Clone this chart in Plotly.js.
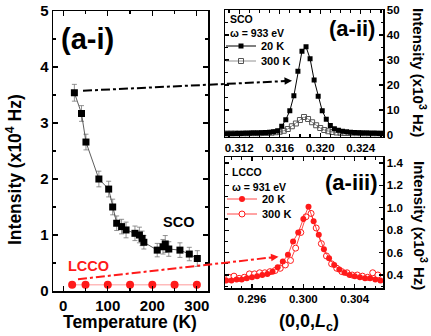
<!DOCTYPE html>
<html><head><meta charset="utf-8">
<script src="https://cdn.plot.ly/plotly-3.0.1.min.js"></script>
<style>html,body{margin:0;padding:0;background:#fff}#plot{width:431px;height:336px}</style>
</head><body><div id="plot"></div>
<script>
// ---- Panel (a-i): temperature dependence ----
const T_sco = [25, 41, 51, 80, 102, 111, 120, 131, 141, 161, 171, 177, 181, 211, 224, 229, 237, 262, 283, 301];
const I_sco = [3.54, 3.17, 2.66, 2.00, 1.82, 1.50, 1.21, 1.15, 1.09, 1.03, 1.00, 0.94, 0.87, 0.73, 0.79, 0.84, 0.75, 0.73, 0.66, 0.58];
const E_sco = [0.15, 0.14, 0.14, 0.14, 0.14, 0.14, 0.13, 0.13, 0.14, 0.13, 0.14, 0.13, 0.12, 0.12, 0.13, 0.15, 0.13, 0.13, 0.12, 0.14];
const T_lcco = [20, 50, 100, 150, 200, 250, 300];
const I_lcco = [0.11, 0.11, 0.11, 0.11, 0.11, 0.11, 0.11];
const T_ticks = [0, 100, 200, 300];
const I_ticks = [0, 1, 2, 3, 4, 5];

// ---- Panel (a-ii): SCO scans (x10^3 Hz) ----
const L_sco20 = [0.3106,0.3110,0.3114,0.3118,0.3122,0.3126,0.3130,0.3134,0.3138,0.3142,0.3146,0.3150,0.3154,0.3158,0.3162,0.3166,0.3170,0.3174,0.3178,0.3182,0.3186,0.3190,0.3194,0.3198,0.3202,0.3206,0.3210,0.3214,0.3218,0.3222,0.3226,0.3230,0.3234,0.3238,0.3242,0.3246,0.3250,0.3254,0.3258,0.3262];
const I_sco20 = [0.5,0.5,0.5,0.6,0.6,0.7,0.7,0.8,0.8,0.9,1.0,1.1,1.3,1.7,3.5,6.1,9.7,15.7,25.5,33.5,35.3,30.5,22.0,15.5,9.7,6.3,3.8,2.5,1.9,1.5,1.3,1.1,1.0,0.9,0.8,0.8,0.7,0.7,0.6,0.6];
const L_sco300 = [0.3108,0.3112,0.3116,0.3120,0.3124,0.3128,0.3132,0.3136,0.3140,0.3144,0.3148,0.3152,0.3156,0.3160,0.3164,0.3168,0.3172,0.3176,0.3180,0.3184,0.3188,0.3192,0.3196,0.3200,0.3204,0.3208,0.3212,0.3216,0.3220,0.3224,0.3228,0.3232,0.3236,0.3240,0.3244,0.3248,0.3252,0.3256,0.3260];
const I_sco300 = [0.6,0.6,0.6,0.6,0.6,0.6,0.7,0.7,0.7,0.8,0.8,0.9,1.1,1.3,1.7,2.4,3.5,4.6,6.0,7.2,6.4,5.1,3.9,2.8,2.0,1.5,1.2,1.0,0.9,0.8,0.8,0.7,0.7,0.7,0.6,0.6,0.6,0.6,0.6];
const L2_ticks = [0.312, 0.316, 0.320, 0.324];
const L2_text = ["0.312", "0.316", "0.320", "0.324"];
const I2_ticks = [0, 10, 20, 30, 40, 50];

// ---- Panel (a-iii): LCCO scans (x10^3 Hz) ----
const L_lcco20 = [0.2940,0.2944,0.2948,0.2952,0.2956,0.2960,0.2964,0.2968,0.2972,0.2976,0.2980,0.2984,0.2988,0.2992,0.2996,0.3000,0.3004,0.3008,0.3012,0.3016,0.3020,0.3024,0.3028,0.3032,0.3036,0.3040,0.3044,0.3048,0.3052,0.3056,0.3060];
const I_lcco20 = [0.35,0.35,0.36,0.36,0.37,0.38,0.39,0.40,0.41,0.43,0.47,0.52,0.58,0.70,0.78,0.90,1.01,0.88,0.76,0.63,0.55,0.49,0.45,0.42,0.40,0.39,0.38,0.37,0.37,0.36,0.35];
const L_lcco300 = [0.2942,0.2946,0.2950,0.2954,0.2958,0.2962,0.2966,0.2970,0.2974,0.2978,0.2982,0.2986,0.2990,0.2994,0.2998,0.3002,0.3006,0.3010,0.3014,0.3018,0.3022,0.3026,0.3030,0.3034,0.3038,0.3042,0.3046,0.3050,0.3054,0.3058];
const I_lcco300 = [0.38,0.39,0.37,0.38,0.41,0.41,0.42,0.42,0.43,0.44,0.46,0.49,0.53,0.64,0.78,0.92,0.95,0.82,0.68,0.57,0.50,0.46,0.43,0.42,0.40,0.40,0.39,0.38,0.42,0.40];
const L3_ticks = [0.296, 0.300, 0.304];
const L3_text = ["0.296", "0.300", "0.304"];
const I3_ticks = [0.4, 0.6, 0.8, 1.0, 1.2, 1.4];
const I3_text = ["0.4", "0.6", "0.8", "1.0", "1.2", "1.4"];

const W = 431, H = 336;
const px = x => x / W, py = y => 1 - y / H;
const FAM = 'Liberation Sans, Arial, Helvetica, sans-serif';
const RED = '#ff1a1a';
const B = s => '<b>' + s + '</b>';
const fnt = (s, c) => ({family: FAM, size: s, color: c || '#000', weight: 'bold'});

const traces = [
  {x: T_sco, y: I_sco, xaxis: 'x', yaxis: 'y', type: 'scatter', mode: 'lines+markers', showlegend: false,
   line: {color: '#333', width: 0.8}, marker: {symbol: 'square', size: 7, color: '#000'},
   error_y: {type: 'data', array: E_sco, visible: true, color: '#777', thickness: 0.8, width: 2.5}},
  {x: T_lcco, y: I_lcco, xaxis: 'x', yaxis: 'y', type: 'scatter', mode: 'lines+markers', showlegend: false,
   line: {color: '#ff8080', width: 0.8}, marker: {symbol: 'circle', size: 8, color: RED}},
  {x: L_sco300, y: I_sco300, xaxis: 'x2', yaxis: 'y2', type: 'scatter', mode: 'lines+markers', name: B('300 K'), legend: 'legend2',
   line: {color: '#777', width: 0.8}, marker: {symbol: 'square-open', size: 5, color: '#555', line: {width: 1}}},
  {x: L_sco20, y: I_sco20, xaxis: 'x2', yaxis: 'y2', type: 'scatter', mode: 'lines+markers', name: B('20 K'), legend: 'legend',
   line: {color: '#000', width: 1}, marker: {symbol: 'square', size: 5, color: '#000'}},
  {x: L_lcco300, y: I_lcco300, xaxis: 'x3', yaxis: 'y3', type: 'scatter', mode: 'lines+markers', name: B('300 K'), legend: 'legend4',
   line: {color: RED, width: 0.8}, marker: {symbol: 'circle', size: 6, color: '#fff', line: {color: RED, width: 1}}},
  {x: L_lcco20, y: I_lcco20, xaxis: 'x3', yaxis: 'y3', type: 'scatter', mode: 'lines+markers', name: B('20 K'), legend: 'legend3',
   line: {color: RED, width: 0.8}, marker: {symbol: 'circle', size: 6, color: RED}}
];

const axBase = {showline: true, linewidth: 1.5, linecolor: '#000', mirror: 'ticks', ticks: 'inside',
  tickcolor: '#000', tickwidth: 1.2, showgrid: false, zeroline: false, tickmode: 'array'};

const legBase = {xref: 'paper', yref: 'paper', xanchor: 'left', yanchor: 'middle', bgcolor: 'rgba(0,0,0,0)',
  borderwidth: 0, font: fnt(11), itemwidth: 30};

function ann(x, y, text, size, extra) {
  return Object.assign({xref: 'paper', yref: 'paper', x: px(x), y: py(y), text: B(text), showarrow: false,
    xanchor: 'center', yanchor: 'middle', font: fnt(size)}, extra || {});
}

const layout = {
  width: W, height: H, margin: {l: 0, r: 0, t: 0, b: 0},
  paper_bgcolor: '#fff', plot_bgcolor: '#fff', font: {family: FAM},
  xaxis: Object.assign({}, axBase, {domain: [px(53), px(208)], range: [-23, 325], anchor: 'y',
    tickvals: T_ticks, ticktext: T_ticks.map(v => B(v)), ticklen: 5, tickfont: fnt(15),
    minor: {dtick: 50, tick0: 0, ticklen: 3, ticks: 'inside', tickcolor: '#000'}}),
  yaxis: Object.assign({}, axBase, {domain: [py(291), py(11)], range: [0, 5], anchor: 'x',
    tickvals: I_ticks, ticktext: I_ticks.map(v => B(v)), ticklen: 5, tickfont: fnt(15),
    minor: {dtick: 0.5, tick0: 0, ticklen: 3, ticks: 'inside', tickcolor: '#000'}}),
  xaxis2: Object.assign({}, axBase, {domain: [px(225), px(383)], range: [0.3106, 0.3262], anchor: 'y2',
    tickvals: L2_ticks, ticktext: L2_text.map(B), ticklen: 4, tickfont: fnt(11.5),
    minor: {dtick: 0.001, tick0: 0.312, ticklen: 2.5, ticks: 'inside', tickcolor: '#000'}}),
  yaxis2: Object.assign({}, axBase, {domain: [py(136.5), py(10)], range: [-0.6, 50], anchor: 'x2', side: 'right',
    tickvals: I2_ticks, ticktext: I2_ticks.map(v => B(v)), ticklen: 4, tickfont: fnt(11.5),
    minor: {dtick: 5, tick0: 0, ticklen: 2.5, ticks: 'inside', tickcolor: '#000'}}),
  xaxis3: Object.assign({}, axBase, {domain: [px(225), px(383)], range: [0.2939, 0.3062], anchor: 'y3',
    tickvals: L3_ticks, ticktext: L3_text.map(B), ticklen: 4, tickfont: fnt(11.5),
    minor: {dtick: 0.0008, tick0: 0.296, ticklen: 2.5, ticks: 'inside', tickcolor: '#000'}}),
  yaxis3: Object.assign({}, axBase, {domain: [py(288), py(157)], range: [0.284, 1.454], anchor: 'x3', side: 'right',
    tickvals: I3_ticks, ticktext: I3_text.map(B), ticklen: 4, tickfont: fnt(11.5),
    minor: {dtick: 0.1, tick0: 0.4, ticklen: 2.5, ticks: 'inside', tickcolor: '#000'}}),
  legend: Object.assign({}, legBase, {x: px(221), y: py(46)}),
  legend2: Object.assign({}, legBase, {x: px(221), y: py(61)}),
  legend3: Object.assign({}, legBase, {x: px(222), y: py(199)}),
  legend4: Object.assign({}, legBase, {x: px(222), y: py(214)}),
  shapes: [
    {type: 'line', xref: 'paper', yref: 'paper', x0: px(83), y0: py(90.7), x1: px(287), y1: py(81),
     line: {color: '#000', width: 2, dash: 'dashdot'}},
    {type: 'line', xref: 'paper', yref: 'paper', x0: px(78), y0: py(279.3), x1: px(273), y1: py(257.3),
     line: {color: RED, width: 2, dash: 'dashdot'}}
  ],
  annotations: [
    {xref: 'paper', yref: 'paper', x: px(292), y: py(80.7), ax: -10, ay: 0.5, showarrow: true, text: '',
     arrowhead: 2, arrowsize: 1, arrowwidth: 1.5, arrowcolor: '#000'},
    {xref: 'paper', yref: 'paper', x: px(278.5), y: py(256.7), ax: -10, ay: 1.1, showarrow: true, text: '',
     arrowhead: 2, arrowsize: 1, arrowwidth: 1.5, arrowcolor: RED},
    ann(87, 39, '(a-i)', 29),
    ann(178, 222, 'SCO', 14.5),
    ann(88, 266, 'LCCO', 14.5, {font: fnt(14.5, RED)}),
    ann(130, 322, 'Temperature (K)', 17.5),
    ann(14, 170, 'Intensity (x10<sup>4</sup> Hz)', 17.5, {textangle: -90}),
    ann(352, 28, '(a-ii)', 22),
    ann(351, 182, '(a-iii)', 22),
    ann(228, 19, 'SCO', 10.5, {xanchor: 'left'}),
    ann(228, 33, 'ω = 933 eV', 10.5, {xanchor: 'left'}),
    ann(230, 172, 'LCCO', 10.5, {xanchor: 'left'}),
    ann(230, 187, 'ω = 931 eV', 10.5, {xanchor: 'left'}),
    ann(420, 72, 'Intensity (x10<sup>3</sup> Hz)', 15, {textangle: 90}),
    ann(420, 225, 'Intensity (x10<sup>3</sup> Hz)', 15, {textangle: 90}),
    ann(309, 322, '(0,0,<i>L</i><sub>c</sub>)', 18)
  ]
};

Plotly.newPlot('plot', traces, layout, {staticPlot: true, displayModeBar: false});
</script></body></html>
